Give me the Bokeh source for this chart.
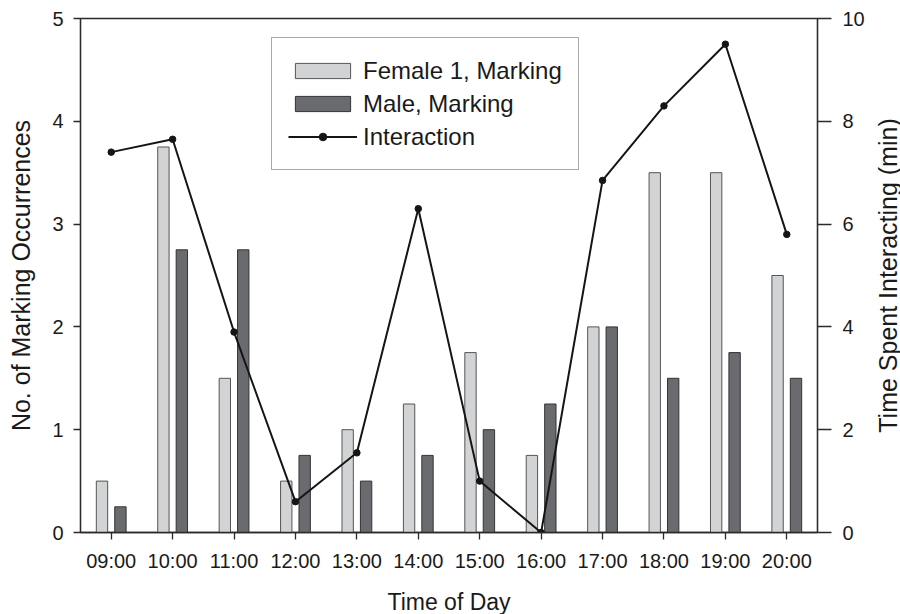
from bokeh.plotting import figure
from bokeh.layouts import row
from bokeh.models import (Range1d, FactorRange, LinearAxis, FixedTicker, Legend,
                          LegendItem, ColumnDataSource, Title)
from bokeh.transform import dodge
from bokeh.embed import file_html
from bokeh.resources import INLINE

hours = ["09:00", "10:00", "11:00", "12:00", "13:00", "14:00",
         "15:00", "16:00", "17:00", "18:00", "19:00", "20:00"]
female_marking = [0.5, 3.75, 1.5, 0.5, 1.0, 1.25, 1.75, 0.75, 2.0, 3.5, 3.5, 2.5]
male_marking = [0.25, 2.75, 2.75, 0.75, 0.5, 0.75, 1.0, 1.25, 2.0, 1.5, 1.75, 1.5]
interaction_min = [7.4, 7.65, 3.9, 0.6, 1.55, 6.3, 1.0, 0.0, 6.85, 8.3, 9.5, 5.8]
left_ticks = [0, 1, 2, 3, 4, 5]
right_ticks = [0, 2, 4, 6, 8, 10]

FONT = "Liberation Sans"
AX = "#2a2a2a"

src = ColumnDataSource(dict(hour=hours, female=female_marking,
                            male=male_marking, inter=interaction_min))

p = figure(x_range=FactorRange(factors=hours, range_padding=0),
           y_range=Range1d(0, 5),
           frame_width=737, frame_height=514,
           output_backend="svg", toolbar_location=None,
           min_border_left=80, min_border_right=54, min_border_top=18,
           min_border_bottom=80)
p.extra_y_ranges = {"right": Range1d(0, 10)}

p.xgrid.visible = False
p.ygrid.visible = False
p.outline_line_color = AX
p.outline_line_width = 1.3
p.outline_line_alpha = 1.0
p.background_fill_color = "white"
p.border_fill_color = "white"

fb = p.vbar(x=dodge("hour", -0.15, range=p.x_range), top="female", width=0.185,
            source=src, fill_color="#d2d3d5", line_color="#555555", line_width=1)
mb = p.vbar(x=dodge("hour", 0.15, range=p.x_range), top="male", width=0.185,
            source=src, fill_color="#6a6b6f", line_color="#333333", line_width=1)
ln = p.line(x="hour", y="inter", source=src, y_range_name="right",
            line_color="#151515", line_width=2)
sc = p.scatter(x="hour", y="inter", source=src, y_range_name="right",
               size=6.5, fill_color="#151515", line_color="#151515")

right = LinearAxis(y_range_name="right", ticker=FixedTicker(ticks=right_ticks),
                   major_tick_out=14, major_tick_in=0, major_label_standoff=11)
p.add_layout(right, "right")

p.yaxis[0].ticker = FixedTicker(ticks=left_ticks)
p.yaxis[0].axis_label = "No. of Marking Occurrences"
p.xaxis.axis_label = "Time of Day"

for ax in [p.xaxis[0], p.yaxis[0], right]:
    ax.axis_line_color = AX
    ax.axis_line_width = 1.3
    ax.major_tick_line_color = AX
    ax.major_tick_line_width = 1.3
    ax.major_tick_in = 0
    ax.minor_tick_line_color = None
    ax.major_label_text_font = FONT
    ax.major_label_text_font_size = "20px"
    ax.major_label_text_color = "#1a1a1a"
    ax.axis_label_text_font = FONT
    ax.axis_label_text_font_style = "normal"
    ax.axis_label_text_color = "#1a1a1a"

p.xaxis[0].major_tick_out = 7
p.xaxis[0].major_label_standoff = 10
p.xaxis[0].axis_label_text_font_size = "23px"
p.xaxis[0].axis_label_standoff = 14
p.yaxis[0].major_tick_out = 7
p.yaxis[0].major_label_standoff = 10
p.yaxis[0].axis_label_text_font_size = "25px"
p.yaxis[0].axis_label_standoff = 14

legend = Legend(items=[
    LegendItem(label="Female 1, Marking", renderers=[fb]),
    LegendItem(label="Male, Marking", renderers=[mb]),
    LegendItem(label="Interaction", renderers=[ln, sc]),
], location=(191, 362))
legend.label_text_font = FONT
legend.label_text_font_size = "24px"
legend.label_text_color = "#1a1a1a"
legend.glyph_width = 69
legend.glyph_height = 19
legend.label_standoff = 6
legend.label_height = 33
legend.spacing = 0
legend.padding = 16
legend.margin = 0
legend.border_line_color = "#555555"
legend.border_line_width = 1.3
legend.background_fill_alpha = 1.0
p.add_layout(legend, "center")

# narrow companion figure that carries the right-hand axis title (reads bottom-to-top)
p2 = figure(x_range=Range1d(0, 1), y_range=Range1d(0, 1),
            frame_width=1, frame_height=514,
            output_backend="svg", toolbar_location=None,
            x_axis_location=None, y_axis_location=None,
            min_border_left=0, min_border_right=0, min_border_top=18,
            min_border_bottom=80)
p2.grid.visible = False
p2.outline_line_color = None
p2.border_fill_color = "white"
p2.background_fill_color = "white"
p2.add_layout(Title(text="Time Spent Interacting (min)", align="center",
                    text_font=FONT, text_font_size="25px", text_font_style="normal",
                    text_color="#1a1a1a", standoff=0, offset=0), "left")

layout = row(p, p2, spacing=0)
open("out.html", "w").write(file_html(layout, INLINE))
